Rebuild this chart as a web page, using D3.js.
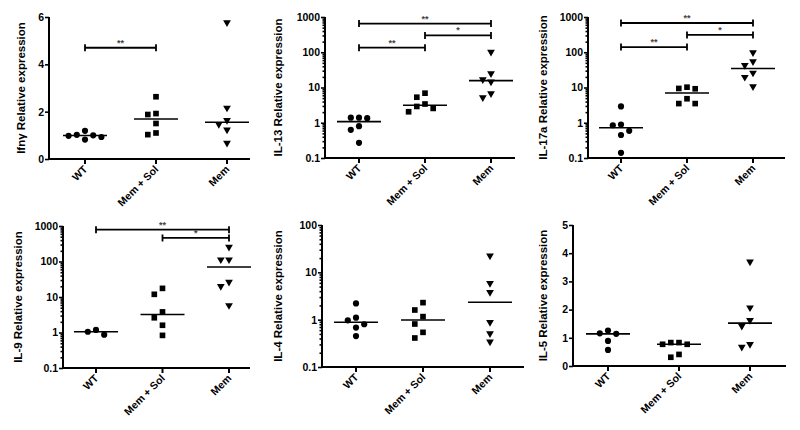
<!DOCTYPE html>
<html>
<head>
<meta charset="utf-8">
<script src="https://cdn.jsdelivr.net/npm/d3@7"></script>
<style>
  body { margin: 0; background: #fff; }
  svg { display: block; font-family: "Liberation Sans", Arial, sans-serif; }
</style>
</head>
<body>
<div id="root"></div>
<script>
const groups = ["WT", "Mem + Sol", "Mem"];

// values, one array per group
const ifngWT = [1.02, 0.98, 1.19, 0.82, 0.93, 1.0];
const ifngMemSol = [2.63, 1.88, 1.92, 1.5, 1.03, 1.1];
const ifngMem = [5.77, 2.16, 1.64, 1.47, 1.24, 0.68];

const il13WT = [1.39, 1.35, 1.39, 0.8, 0.63, 0.27];
const il13MemSol = [6.9, 5.3, 2.9, 3.4, 2.05, 2.55];
const il13Mem = [102, 25, 16.8, 14.5, 5.2, 6.8];

const il17WT = [2.9, 0.85, 0.89, 0.59, 0.45, 0.14];
const il17MemSol = [9.4, 9.2, 10.2, 4.8, 3.5, 3.5];
const il17Mem = [99, 55, 43, 26, 19.7, 10.7];

const il9WT = [1.18, 0.87, 1.05];
const il9MemSol = [17.5, 11.9, 3.8, 2.6, 1.6, 0.83];
const il9Mem = [256, 113, 113, 26.5, 20, 5.8];

const il4WT = [2.2, 0.97, 1.1, 0.8, 0.68, 0.45];
const il4MemSol = [2.29, 1.6, 1.16, 0.81, 0.54, 0.41];
const il4Mem = [22.5, 5.9, 3.8, 0.88, 0.51, 0.34];

const il5WT = [1.26, 1.14, 1.16, 0.89, 0.57];
const il5MemSol = [0.83, 0.77, 0.77, 0.83, 0.31, 0.41];
const il5Mem = [3.7, 2.07, 1.62, 1.42, 0.67, 0.77];

// significance brackets: [from group, to group, height value, label]
const ifngSig = [[0, 1, 4.7, "**"]];
const il13Sig = [[0, 1, 135, "**"], [1, 2, 300, "*"], [0, 2, 650, "**"]];
const il17Sig = [[0, 1, 140, "**"], [1, 2, 310, "*"], [0, 2, 675, "**"]];
const il9Sig = [[0, 2, 790, "**"], [1, 2, 460, "*"]];
const il4Sig = [];
const il5Sig = [];

const panels = [
  { title: "Ifnγ Relative expression", log: false, domain: [0, 6], ticks: [0, 2, 4, 6],
    data: [ifngWT, ifngMemSol, ifngMem], sig: ifngSig,
    left: 49, right: 250, x0: 85, x1: 227, top: 17, bottom: 159, titleX: 21 },
  { title: "IL-13 Relative expression", log: true, domain: [0.1, 1000],
    data: [il13WT, il13MemSol, il13Mem], sig: il13Sig,
    left: 325, right: 515, x0: 359, x1: 491, top: 17, bottom: 158, titleX: 278 },
  { title: "IL-17a Relative expression", log: true, domain: [0.1, 1000],
    data: [il17WT, il17MemSol, il17Mem], sig: il17Sig,
    left: 588, right: 785, x0: 621, x1: 753, top: 17, bottom: 158, titleX: 543 },
  { title: "IL-9 Relative expression", log: true, domain: [0.1, 1000],
    data: [il9WT, il9MemSol, il9Mem], sig: il9Sig,
    left: 63, right: 250, x0: 96, x1: 229, top: 226, bottom: 368, titleX: 18 },
  { title: "IL-4 Relative expression", log: true, domain: [0.1, 100],
    data: [il4WT, il4MemSol, il4Mem], sig: il4Sig,
    left: 322, right: 524, x0: 356, x1: 490, top: 225, bottom: 367, titleX: 278 },
  { title: "IL-5 Relative expression", log: false, domain: [0, 5], ticks: [0, 1, 2, 3, 4, 5],
    data: [il5WT, il5MemSol, il5Mem], sig: il5Sig,
    left: 573, right: 786, x0: 608, x1: 750, top: 225, bottom: 366, titleX: 543 }
];

const svg = d3.select("#root")
  .append("svg")
    .attr("width", 800)
    .attr("height", 430);

const sym = [d3.symbolCircle, d3.symbolSquare, d3.symbolTriangle];
const symSize = [30, 32, 26];

// simple column-scatter placement like Prism: spread points that overlap
function swarm(vals, y, cx) {
  const pts = vals.map(v => ({ v, y: y(v) })).sort((a, b) => a.y - b.y);
  const placed = [];
  pts.forEach(p => {
    for (let k = 0; k < 20; k++) {
      const off = (k % 2 ? -1 : 1) * Math.ceil(k / 2) * 4.1;
      const x = cx + off;
      if (!placed.some(q => Math.abs(q.x - x) < 8 && Math.abs(q.y - p.y) < 8.2)) {
        p.x = x;
        placed.push(p);
        break;
      }
    }
  });
  return placed;
}

panels.forEach(cfg => {
  const g = svg.append("g");

  const y = (cfg.log ? d3.scaleLog() : d3.scaleLinear())
    .domain(cfg.domain)
    .range([cfg.bottom, cfg.top]);
  const x = d3.scaleLinear()
    .domain([0, 2])
    .range([cfg.x0, cfg.x1]);

  // y axis
  const yAxis = g.append("g")
    .attr("transform", `translate(${cfg.left},0)`);
  if (cfg.log) {
    const minor = [];
    const lo = Math.log10(cfg.domain[0]), hi = Math.log10(cfg.domain[1]);
    for (let e = lo; e < hi; e++) {
      for (let m = 2; m <= 9; m++) minor.push(m * Math.pow(10, e));
    }
    yAxis.append("g")
      .call(d3.axisLeft(y).tickValues(minor).tickSize(2.5).tickFormat(""));
    const major = d3.range(lo, hi + 1).map(e => +Math.pow(10, e).toPrecision(3));
    yAxis.append("g")
      .call(d3.axisLeft(y).tickValues(major).tickSize(4).tickPadding(1).tickFormat(d3.format("~g")));
  } else {
    yAxis.append("g")
      .call(d3.axisLeft(y).tickValues(cfg.ticks).tickSize(4).tickPadding(1).tickFormat(d3.format("d")));
  }
  yAxis.selectAll(".domain").remove();
  yAxis.append("line")
    .attr("x1", 0).attr("x2", 0)
    .attr("y1", cfg.top).attr("y2", cfg.bottom + 1)
    .attr("stroke", "#000")
    .attr("stroke-width", 2);
  yAxis.selectAll(".tick line").attr("stroke-width", 1.6);
  yAxis.selectAll(".tick text")
    .attr("font-size", 10.5)
    .attr("font-weight", "bold")
    .attr("fill", "#000")
    .attr("font-family", "Liberation Sans, Arial, sans-serif");

  // x axis
  const xAxis = g.append("g")
    .attr("transform", `translate(0,${cfg.bottom})`);
  xAxis.append("line")
    .attr("x1", cfg.left - 1).attr("x2", cfg.right)
    .attr("stroke", "#000")
    .attr("stroke-width", 2);
  xAxis.selectAll(".xt")
    .data(groups)
    .enter()
    .append("line")
      .attr("x1", (d, i) => x(i)).attr("x2", (d, i) => x(i))
      .attr("y1", 0).attr("y2", 5)
      .attr("stroke", "#000")
      .attr("stroke-width", 2);
  xAxis.selectAll(".xl")
    .data(groups)
    .enter()
    .append("text")
      .text(d => d)
      .attr("transform", (d, i) => `translate(${x(i) + 3},${11})rotate(-45)`)
      .attr("text-anchor", "end")
      .attr("font-size", 10.5)
      .attr("font-weight", "bold");

  // axis title
  g.append("text")
    .text(cfg.title)
    .attr("transform", `translate(${cfg.titleX},${(cfg.top + cfg.bottom) / 2})rotate(-90)`)
    .attr("text-anchor", "middle")
    .attr("dy", "0.35em")
    .attr("font-size", 11.5)
    .attr("font-weight", "bold");

  // points and medians
  cfg.data.forEach((vals, gi) => {
    const pts = swarm(vals, y, x(gi));
    g.selectAll(null)
      .data(pts)
      .enter()
      .append("path")
        .attr("d", d3.symbol().type(sym[gi]).size(symSize[gi]))
        .attr("transform", d => `translate(${d.x},${d.y})` + (gi === 2 ? "rotate(180)" : ""))
        .attr("fill", "#000");
    const med = d3.median(vals);
    g.append("line")
      .attr("x1", x(gi) - 22).attr("x2", x(gi) + 22)
      .attr("y1", y(med)).attr("y2", y(med))
      .attr("stroke", "#000")
      .attr("stroke-width", 1.6);
  });

  // significance brackets
  cfg.sig.forEach(([a, b, v, lab]) => {
    const yy = y(v);
    const s = g.append("g").attr("stroke", "#000").attr("stroke-width", 1.8);
    s.append("line").attr("x1", x(a)).attr("x2", x(b)).attr("y1", yy).attr("y2", yy);
    s.append("line").attr("x1", x(a)).attr("x2", x(a)).attr("y1", yy - 3.5).attr("y2", yy + 3.5);
    s.append("line").attr("x1", x(b)).attr("x2", x(b)).attr("y1", yy - 3.5).attr("y2", yy + 3.5);
    g.append("text")
      .text(lab)
      .attr("x", (x(a) + x(b)) / 2)
      .attr("y", yy - 2)
      .attr("text-anchor", "middle")
      .attr("font-size", 9)
      .attr("font-weight", "bold")
      .attr("fill", "#444");
  });
});
</script>
</body>
</html>
